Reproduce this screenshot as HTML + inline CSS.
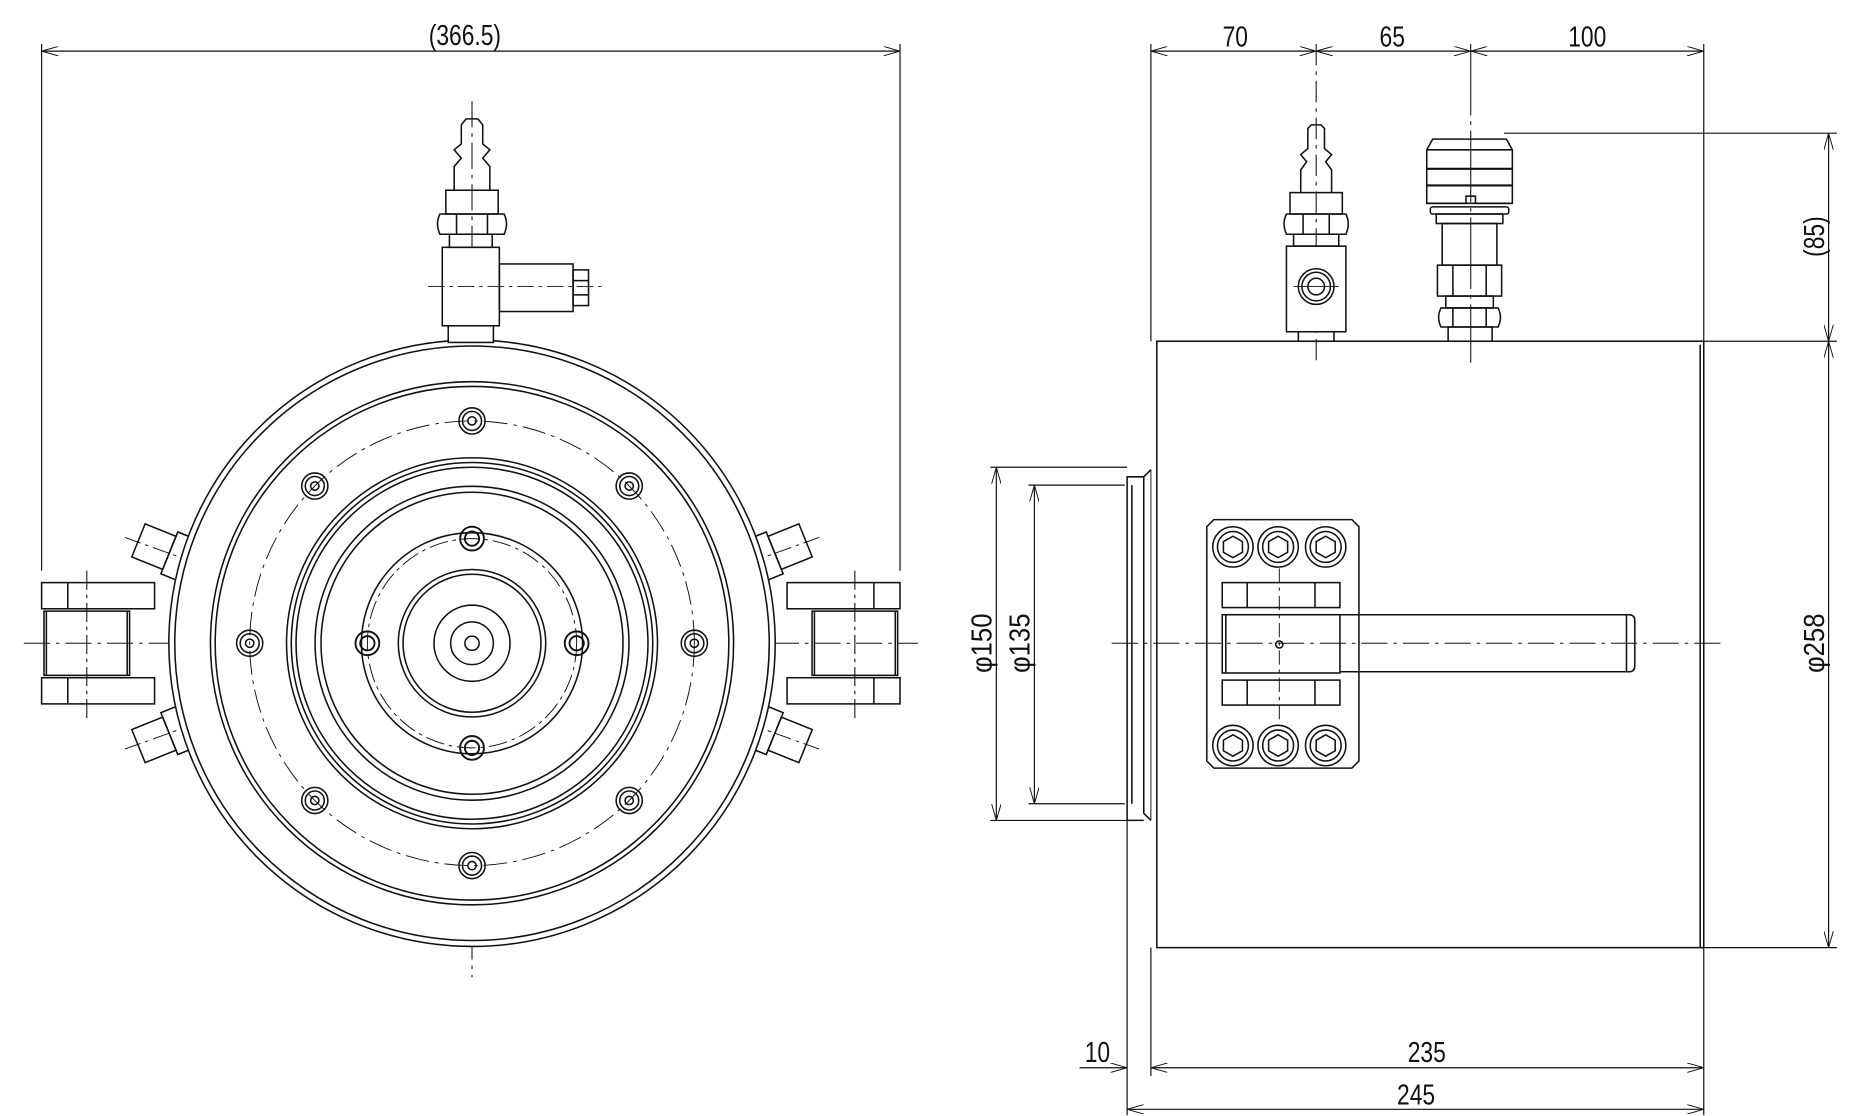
<!DOCTYPE html>
<html><head><meta charset="utf-8"><style>
html,body{margin:0;padding:0;background:#fff;}
svg{display:block;}
text{font-family:"Liberation Sans",sans-serif;font-size:24px;fill:#111;}
</style></head><body>
<svg width="1850" height="1116" viewBox="0 0 1556 938.6" preserveAspectRatio="none" xmlns="http://www.w3.org/2000/svg">
<defs>
<marker id="a" markerWidth="14" markerHeight="8" refX="14" refY="4" orient="auto" markerUnits="userSpaceOnUse"><path d="M0,0 L14,4 L0,8" fill="none" stroke="#111" stroke-width="0.8"/></marker>
<marker id="b" markerWidth="14" markerHeight="8" refX="0" refY="4" orient="auto" markerUnits="userSpaceOnUse"><path d="M14,0 L0,4 L14,8" fill="none" stroke="#111" stroke-width="0.8"/></marker>
</defs>
<g fill="none" stroke="#111" stroke-width="1.3">
<line x1="35" y1="43" x2="757" y2="43" stroke-width="1" marker-start="url(#b)" marker-end="url(#a)"/>
<line x1="35" y1="37" x2="35" y2="480" stroke-width="1"/>
<line x1="757" y1="37" x2="757" y2="480" stroke-width="1"/>
<line x1="397" y1="85" x2="397" y2="822" stroke-width="0.9" stroke-dasharray="22,5,3,5"/>
<line x1="20" y1="541" x2="772" y2="541" stroke-width="0.9" stroke-dasharray="22,5,3,5"/>
<rect x="35" y="490" width="95" height="22"/><line x1="57" y1="490" x2="57" y2="512"/>
<rect x="37" y="514" width="72" height="54"/><line x1="39" y1="514" x2="39" y2="568"/><line x1="107" y1="514" x2="107" y2="568"/>
<rect x="35" y="570" width="95" height="22"/><line x1="57" y1="570" x2="57" y2="592"/>
<line x1="73" y1="480" x2="73" y2="605" stroke-width="0.9" stroke-dasharray="16,4,3,4"/>
<rect x="662" y="490" width="95" height="22"/><line x1="735" y1="490" x2="735" y2="512"/>
<rect x="683" y="514" width="72" height="54"/><line x1="685" y1="514" x2="685" y2="568"/><line x1="753" y1="514" x2="753" y2="568"/>
<rect x="662" y="570" width="95" height="22"/><line x1="735" y1="570" x2="735" y2="592"/>
<line x1="719" y1="480" x2="719" y2="605" stroke-width="0.9" stroke-dasharray="16,4,3,4"/>
<g transform="rotate(22 135 462)"><rect x="115" y="447" width="28" height="30"/><rect x="143" y="443" width="18" height="38"/></g>
<g transform="rotate(-22 135 620)"><rect x="115" y="605" width="28" height="30"/><rect x="143" y="601" width="18" height="38"/></g>
<g transform="rotate(-22 659 462)"><rect x="651" y="447" width="28" height="30"/><rect x="633" y="443" width="18" height="38"/></g>
<g transform="rotate(22 659 620)"><rect x="651" y="605" width="28" height="30"/><rect x="633" y="601" width="18" height="38"/></g>
<line x1="105" y1="452" x2="172" y2="476" stroke-width="0.8" stroke-dasharray="14,4,3,4"/>
<line x1="105" y1="630" x2="172" y2="606" stroke-width="0.8" stroke-dasharray="14,4,3,4"/>
<line x1="689" y1="452" x2="622" y2="476" stroke-width="0.8" stroke-dasharray="14,4,3,4"/>
<line x1="689" y1="630" x2="622" y2="606" stroke-width="0.8" stroke-dasharray="14,4,3,4"/>
<circle cx="397" cy="541" r="255" fill="#fff"/>
<circle cx="397" cy="541" r="250"/>
<circle cx="397" cy="541" r="220"/>
<circle cx="397" cy="541" r="216"/>
<circle cx="397" cy="541" r="187" stroke-width="0.8" stroke-dasharray="20,5,3,5"/>
<circle cx="397" cy="541" r="156"/>
<circle cx="397" cy="541" r="152"/>
<circle cx="397" cy="541" r="148"/>
<circle cx="397" cy="541" r="132"/>
<circle cx="397" cy="541" r="127"/>
<circle cx="397" cy="541" r="88" stroke-width="0.8" stroke-dasharray="16,4,3,4"/>
<circle cx="397" cy="541" r="93"/>
<circle cx="397" cy="541" r="62"/>
<circle cx="397" cy="541" r="58"/>
<circle cx="397" cy="541" r="32"/>
<circle cx="397" cy="541" r="18"/>
<circle cx="397" cy="541" r="6"/>
<g id="oh"><circle cx="397" cy="354" r="11"/><circle cx="397" cy="354" r="8"/><circle cx="397" cy="354" r="3.5"/></g>
<use href="#oh" transform="rotate(45 397 541)"/><use href="#oh" transform="rotate(90 397 541)"/><use href="#oh" transform="rotate(135 397 541)"/>
<use href="#oh" transform="rotate(180 397 541)"/><use href="#oh" transform="rotate(225 397 541)"/><use href="#oh" transform="rotate(270 397 541)"/><use href="#oh" transform="rotate(315 397 541)"/>
<g id="ih" stroke-width="1.6"><circle cx="397" cy="453" r="10"/><circle cx="397" cy="453" r="6"/></g>
<use href="#ih" transform="rotate(90 397 541)"/><use href="#ih" transform="rotate(180 397 541)"/><use href="#ih" transform="rotate(270 397 541)"/>
<rect x="377" y="272" width="38" height="16" fill="#fff"/>
<rect x="372" y="208" width="48" height="66" fill="#fff"/>
<rect x="420" y="222" width="62" height="40"/>
<rect x="482" y="227" width="13" height="30"/><line x1="482" y1="236" x2="495" y2="236"/><line x1="482" y1="248" x2="495" y2="248"/>
<line x1="360" y1="241" x2="510" y2="241" stroke-width="0.8" stroke-dasharray="14,4,3,4"/>
<rect x="378" y="197" width="36" height="11"/>
<path d="M370 180 H424 Q428 188 424 197 H370 Q366 188 370 180 Z"/>
<line x1="384" y1="180" x2="384" y2="197"/><line x1="410" y1="180" x2="410" y2="197"/>
<rect x="375" y="160" width="44" height="20"/>
<path d="M382 160 V140 L388 133 L382 126 L388 121 V105 L392 100 H402 L406 105 V121 L412 126 L406 133 L412 140 V160"/>
<line x1="968" y1="43" x2="1107" y2="43" stroke-width="1" marker-start="url(#b)" marker-end="url(#a)"/>
<line x1="1107" y1="43" x2="1237" y2="43" stroke-width="1" marker-start="url(#b)" marker-end="url(#a)"/>
<line x1="1237" y1="43" x2="1433" y2="43" stroke-width="1" marker-start="url(#b)" marker-end="url(#a)"/>
<line x1="968" y1="37" x2="968" y2="287" stroke-width="1"/>
<line x1="1433" y1="37" x2="1433" y2="287" stroke-width="1"/>
<line x1="1107" y1="37" x2="1107" y2="305" stroke-width="0.9" stroke-dasharray="18,5,3,5"/>
<line x1="1237" y1="37" x2="1237" y2="305" stroke-width="0.9" stroke-dasharray="60,5,3,5"/>
<rect x="973" y="287" width="460" height="510"/>
<line x1="1430" y1="290" x2="1430" y2="797"/>
<path d="M968 395 L962 401 V684 L968 690 M962 401 H948 V690 H962 M952 408 V676"/>
<line x1="968" y1="395" x2="968" y2="690" stroke-width="0.8"/>
<line x1="935" y1="541" x2="1452" y2="541" stroke-width="0.9" stroke-dasharray="22,5,3,5"/>
<rect x="1092" y="278" width="30" height="9"/>
<rect x="1082" y="207" width="50" height="72" fill="#fff"/>
<circle cx="1107" cy="241" r="15"/><circle cx="1107" cy="241" r="12"/><circle cx="1107" cy="241" r="7"/>
<line x1="1088" y1="241" x2="1126" y2="241" stroke-width="0.8"/>
<rect x="1088" y="197" width="38" height="10"/>
<path d="M1082 180 H1132 Q1136 188 1132 197 H1082 Q1078 188 1082 180 Z"/>
<line x1="1096" y1="180" x2="1096" y2="197"/><line x1="1118" y1="180" x2="1118" y2="197"/>
<rect x="1085" y="162" width="44" height="18"/>
<path d="M1094 162 V143 L1099 136 L1094 130 L1100 125 V108 L1103 105 H1111 L1114 108 V125 L1120 130 L1115 136 L1120 143 V162"/>
<path d="M1200 171 V126 L1205 117 H1267 L1272 126 V171 Z"/>
<line x1="1200" y1="126" x2="1272" y2="126"/><line x1="1200" y1="142" x2="1272" y2="142" stroke-width="1.8"/><line x1="1200" y1="156" x2="1272" y2="156" stroke-width="1.8"/>
<path d="M1200 171 H1233 V165 H1241 V171 H1272"/>
<rect x="1203" y="174" width="66" height="6" rx="2"/>
<rect x="1208" y="180" width="56" height="8"/>
<rect x="1213" y="188" width="46" height="35"/>
<rect x="1209" y="223" width="54" height="26"/><line x1="1222" y1="223" x2="1222" y2="249"/><line x1="1250" y1="223" x2="1250" y2="249"/>
<rect x="1216" y="249" width="40" height="10"/>
<path d="M1212 259 H1260 Q1264 267 1260 275 H1212 Q1208 267 1212 259 Z"/><line x1="1222" y1="259" x2="1222" y2="275"/><line x1="1250" y1="259" x2="1250" y2="275"/>
<rect x="1218" y="275" width="37" height="12"/>
<path d="M1021 437 H1137 L1143 443 V640 L1137 646 H1021 L1015 640 V443 Z"/>
<g id="bt"><circle cx="1037" cy="460" r="17"/><circle cx="1037" cy="460" r="13"/><path d="M1037 451 L1045 455.5 V464.5 L1037 469 L1029 464.5 V455.5 Z"/></g>
<use href="#bt" transform="translate(38 0)"/><use href="#bt" transform="translate(78 0)"/>
<use href="#bt" transform="translate(0 167)"/><use href="#bt" transform="translate(38 167)"/><use href="#bt" transform="translate(78 167)"/>
<rect x="1028" y="490" width="99" height="21"/><line x1="1049" y1="490" x2="1049" y2="511"/><line x1="1106" y1="490" x2="1106" y2="511"/>
<rect x="1028" y="517" width="99" height="49"/><line x1="1031" y1="517" x2="1031" y2="566"/>
<rect x="1028" y="572" width="99" height="21"/><line x1="1049" y1="572" x2="1049" y2="593"/><line x1="1106" y1="572" x2="1106" y2="593"/>
<circle cx="1076" cy="542" r="3"/>
<line x1="1076" y1="478" x2="1076" y2="605" stroke-width="0.8" stroke-dasharray="12,4,3,4"/>
<path d="M1127 517 H1370 Q1375 517 1375 522 V560 Q1375 565 1370 565 H1127"/>
<line x1="1368" y1="517" x2="1368" y2="565"/>
<line x1="1265" y1="112" x2="1545" y2="112" stroke-width="1"/>
<line x1="1433" y1="287" x2="1545" y2="287" stroke-width="1"/>
<line x1="1433" y1="797" x2="1545" y2="797" stroke-width="1"/>
<line x1="1538" y1="112" x2="1538" y2="287" stroke-width="1" marker-start="url(#b)" marker-end="url(#a)"/>
<line x1="1538" y1="287" x2="1538" y2="797" stroke-width="1" marker-start="url(#b)" marker-end="url(#a)"/>
<line x1="833" y1="393" x2="948" y2="393" stroke-width="1"/>
<line x1="833" y1="690" x2="948" y2="690" stroke-width="1"/>
<line x1="865" y1="408" x2="946" y2="408" stroke-width="1"/>
<line x1="865" y1="676" x2="946" y2="676" stroke-width="1"/>
<line x1="838" y1="393" x2="838" y2="690" stroke-width="1" marker-start="url(#b)" marker-end="url(#a)"/>
<line x1="870" y1="408" x2="870" y2="676" stroke-width="1" marker-start="url(#b)" marker-end="url(#a)"/>
<line x1="948" y1="690" x2="948" y2="938" stroke-width="1"/>
<line x1="968" y1="797" x2="968" y2="905" stroke-width="1"/>
<line x1="1433" y1="797" x2="1433" y2="938" stroke-width="1"/>
<line x1="908" y1="898" x2="948" y2="898" stroke-width="1" marker-end="url(#a)"/>
<line x1="968" y1="898" x2="1433" y2="898" stroke-width="1" marker-start="url(#b)" marker-end="url(#a)"/>
<line x1="948" y1="933" x2="1433" y2="933" stroke-width="1" marker-start="url(#b)" marker-end="url(#a)"/>
</g>
<text x="391" y="38" text-anchor="middle" transform-origin="391 38" transform="scale(0.8 1)">(366.5)</text>
<text x="1039" y="39" text-anchor="middle" transform-origin="1039 39" transform="scale(0.8 1)">70</text>
<text x="1171" y="39" text-anchor="middle" transform-origin="1171 39" transform="scale(0.8 1)">65</text>
<text x="1335" y="39" text-anchor="middle" transform-origin="1335 39" transform="scale(0.8 1)">100</text>
<text x="1200" y="893" text-anchor="middle" transform-origin="1200 893" transform="scale(0.8 1)">235</text>
<text x="1191" y="929" text-anchor="middle" transform-origin="1191 929" transform="scale(0.8 1)">245</text>
<text x="923" y="893" text-anchor="middle" transform-origin="923 893" transform="scale(0.8 1)">10</text>
<text x="0" y="0" text-anchor="middle" transform="translate(1534 199) rotate(-90) scale(0.8 1)">(85)</text>
<text x="0" y="0" text-anchor="middle" transform="translate(1534 541) rotate(-90) scale(0.9 1)">φ258</text>
<text x="0" y="0" text-anchor="middle" transform="translate(834 541) rotate(-90) scale(0.9 1)">φ150</text>
<text x="0" y="0" text-anchor="middle" transform="translate(866 541) rotate(-90) scale(0.9 1)">φ135</text>
</svg>
</body></html>
